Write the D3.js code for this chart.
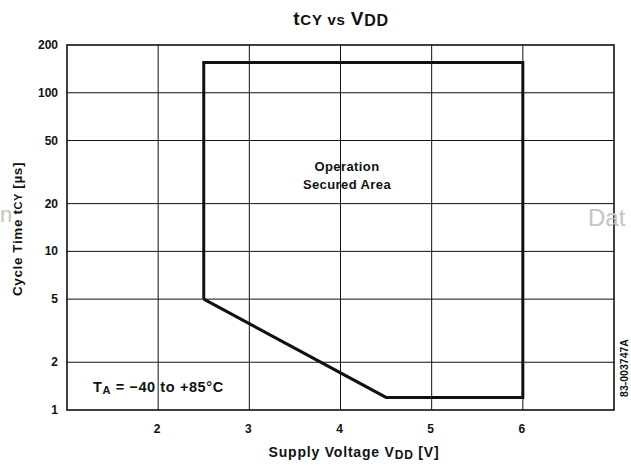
<!DOCTYPE html>
<html>
<head>
<meta charset="utf-8">
<script src="https://cdn.jsdelivr.net/npm/d3@7"></script>
<style>
  html, body { margin: 0; padding: 0; background: #fff; }
  svg { display: block; font-family: "Liberation Sans", Arial, sans-serif; }
</style>
</head>
<body>
<svg id="chart" width="631" height="465"></svg>
<script>
// ---- data ----
const xTicks = [2, 3, 4, 5, 6];
const yTicks = [1, 2, 5, 10, 20, 50, 100, 200];
const yTickLabels = ["1", "2", "5", "10", "20", "50", "100", "200"];
const boundaryVdd = [2.5, 2.5, 6, 6, 4.5, 2.5];      // V
const boundaryTcy = [5, 155, 155, 1.2, 1.2, 5];      // µs

const svg = d3.select("#chart");
const x = d3.scaleLinear().domain([1, 7]).range([67, 614]);
const y = d3.scaleLog().domain([1, 200]).range([410, 45]);

const ink = "#111";

// grid
const g = svg.append("g");
g.selectAll("line.vx").data(xTicks).join("line")
  .attr("x1", d => x(d)).attr("x2", d => x(d))
  .attr("y1", y(200)).attr("y2", y(1))
  .attr("stroke", ink).attr("stroke-width", 1);
g.selectAll("line.hy").data(yTicks.filter(d => d > 1 && d < 200)).join("line")
  .attr("x1", x(1)).attr("x2", x(7))
  .attr("y1", d => y(d)).attr("y2", d => y(d))
  .attr("stroke", ink).attr("stroke-width", 1);

// frame
svg.append("rect")
  .attr("x", x(1)).attr("y", y(200))
  .attr("width", x(7) - x(1)).attr("height", y(1) - y(200))
  .attr("fill", "none").attr("stroke", ink).attr("stroke-width", 1.6);

// operating area boundary
const pts = boundaryVdd.map((v, i) => [v, boundaryTcy[i]]);
svg.append("path")
  .attr("d", d3.line().x(d => x(d[0])).y(d => y(d[1]))(pts))
  .attr("fill", "none").attr("stroke", ink).attr("stroke-width", 3)
  .attr("stroke-linejoin", "miter");

// y tick labels
svg.append("g").selectAll("text").data(yTicks).join("text")
  .attr("x", 58).attr("y", d => y(d) + 4)
  .attr("text-anchor", "end")
  .attr("font-size", 12).attr("font-weight", "bold").attr("fill", ink)
  .text((d, i) => yTickLabels[i]);

// x tick labels
svg.append("g").selectAll("text").data(xTicks).join("text")
  .attr("x", d => x(d) - 1).attr("y", 433)
  .attr("text-anchor", "middle")
  .attr("font-size", 12).attr("font-weight", "bold").attr("fill", ink)
  .text(d => d);

// title
const title = svg.append("text")
  .attr("x", 341).attr("y", 25).attr("text-anchor", "middle")
  .attr("font-size", 19).attr("font-weight", "bold").attr("fill", ink)
  .attr("letter-spacing", 0.8);
title.append("tspan").text("t");
title.append("tspan").attr("font-size", 15).text("CY");
title.append("tspan").attr("font-size", 15).text(" vs ");
title.append("tspan").text("V");
title.append("tspan").attr("font-size", 16).attr("dy", 1).text("DD");

// y axis label
const yl = svg.append("text")
  .attr("transform", "translate(22,229) rotate(-90)")
  .attr("text-anchor", "middle")
  .attr("font-size", 13.5).attr("font-weight", "bold").attr("fill", ink)
  .attr("letter-spacing", 0.6);
yl.append("tspan").text("Cycle Time t");
yl.append("tspan").attr("font-size", 11).text("CY");
yl.append("tspan").text(" [µs]");

// x axis label
const xl = svg.append("text")
  .attr("x", 354).attr("y", 457).attr("text-anchor", "middle")
  .attr("font-size", 14).attr("font-weight", "bold").attr("fill", ink)
  .attr("letter-spacing", 0.8);
xl.append("tspan").text("Supply Voltage V");
xl.append("tspan").attr("font-size", 12).attr("dy", 2).text("DD");
xl.append("tspan").attr("dy", -2).text(" [V]");

// area annotation
svg.append("text").attr("x", 347).attr("y", 171).attr("text-anchor", "middle")
  .attr("font-size", 13).attr("font-weight", "bold").attr("fill", ink)
  .attr("letter-spacing", 0.4)
  .text("Operation");
svg.append("text").attr("x", 347).attr("y", 189).attr("text-anchor", "middle")
  .attr("font-size", 13).attr("font-weight", "bold").attr("fill", ink)
  .attr("letter-spacing", 0.4)
  .text("Secured Area");

// temperature note
const ta = svg.append("text").attr("x", 93).attr("y", 392)
  .attr("font-size", 14.5).attr("font-weight", "bold").attr("fill", ink)
  .attr("letter-spacing", 0.6);
ta.append("tspan").text("T");
ta.append("tspan").attr("font-size", 11).attr("dy", 2).text("A");
ta.append("tspan").attr("dy", -2).text(" = −40 to +85°C");

// document number
svg.append("text")
  .attr("transform", "translate(628,368) rotate(-90)")
  .attr("text-anchor", "middle")
  .attr("font-size", 10.5).attr("font-weight", "bold").attr("fill", ink)
  .text("83-003747A");

// scanned watermark fragments
svg.append("text").attr("x", 588).attr("y", 226)
  .attr("font-size", 24).attr("fill", "#c4c4c4").text("Dat");
svg.append("text").attr("x", 0).attr("y", 222)
  .attr("font-size", 22).attr("fill", "#c4c4c4").text("n");
</script>
</body>
</html>
